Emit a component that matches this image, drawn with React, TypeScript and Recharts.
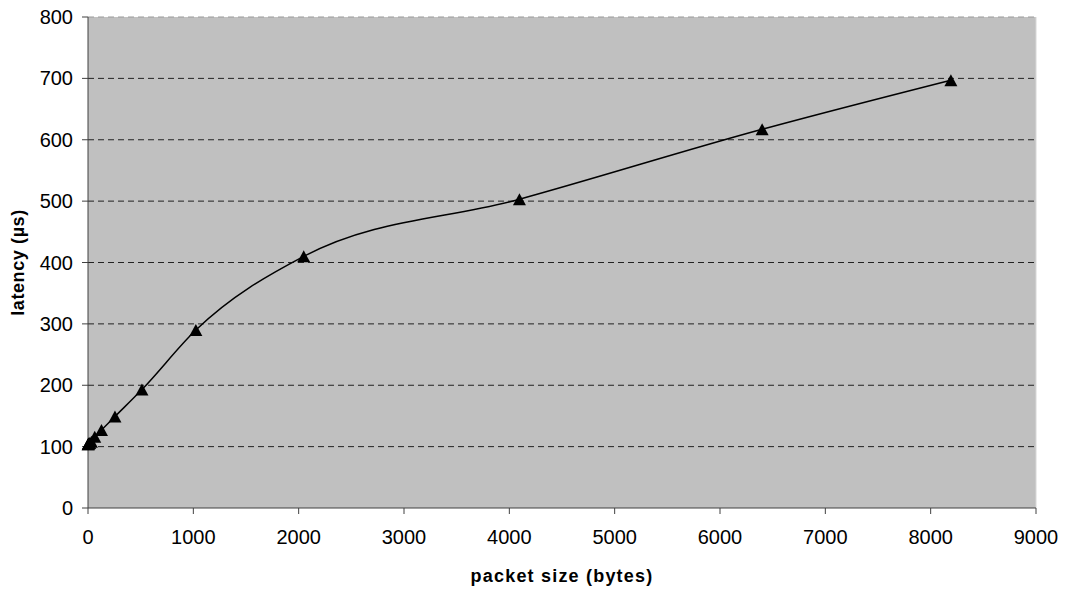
import React from 'react';
import { LineChart, Line, XAxis, YAxis, CartesianGrid, ReferenceLine } from 'recharts';

const packetSizes = [1, 2, 4, 8, 16, 32, 64, 128, 256, 512, 1024, 2048, 4096, 6400, 8192];
const latencies = [104, 104, 105, 105, 106, 108, 116, 127, 149, 193, 290, 410, 503, 617, 697];
const xTicks = [0, 1000, 2000, 3000, 4000, 5000, 6000, 7000, 8000, 9000];
const yTicks = [0, 100, 200, 300, 400, 500, 600, 700, 800];
const gridValues = [100, 200, 300, 400, 500, 600, 700];

const data = packetSizes.map((s, i) => ({ size: s, latency: latencies[i] }));

const FONT = '"Liberation Sans", Arial, sans-serif';

const Triangle = (props: any) => {
  const { cx, cy } = props;
  if (cx == null || cy == null) return null;
  const w = 6.5;
  const h = 6;
  return (
    <polygon
      points={`${cx},${cy - h} ${cx + w},${cy + h} ${cx - w},${cy + h}`}
      fill="#000"
      stroke="none"
    />
  );
};

const YLabel = (props: any) => {
  const vb = props.viewBox || {};
  const cy = vb.y + vb.height / 2;
  const cx = 24;
  return (
    <text
      x={cx}
      y={cy}
      transform={`rotate(-90 ${cx} ${cy})`}
      textAnchor="middle"
      fontFamily={FONT}
      fontWeight="bold"
      fontSize={18}
      letterSpacing={0.6}
      fill="#000"
    >
      latency (µs)
    </text>
  );
};

const XLabel = (props: any) => {
  const vb = props.viewBox || {};
  const cx = vb.x + vb.width / 2;
  return (
    <text
      x={cx}
      y={582}
      textAnchor="middle"
      fontFamily={FONT}
      fontWeight="bold"
      fontSize={18}
      letterSpacing={1.2}
      fill="#000"
    >
      packet size (bytes)
    </text>
  );
};

export default function App() {
  return (
    <div style={{ position: 'absolute', left: 0, top: 0, width: 1068, height: 592, background: '#fff' }}>
      <LineChart
        width={1068}
        height={592}
        data={data}
        margin={{ top: 17, right: 32, left: 0, bottom: 0 }}
      >
        <CartesianGrid
          vertical={false}
          horizontalValues={gridValues}
          fill="#c0c0c0"
          fillOpacity={1}
          stroke="#222"
          strokeDasharray="6 4"
        />
        <ReferenceLine y={800} stroke="#9a9a9a" strokeDasharray="6 4" />
        <ReferenceLine x={9000} stroke="#d8d8d8" />
        <XAxis
          dataKey="size"
          type="number"
          domain={[0, 9000]}
          ticks={xTicks}
          interval={0}
          height={84}
          tickSize={6}
          tickMargin={16}
          stroke="#404040"
          tick={{ fill: '#000', fontSize: 20, fontFamily: FONT }}
          label={<XLabel />}
        />
        <YAxis
          type="number"
          domain={[0, 800]}
          ticks={yTicks}
          interval={0}
          width={88}
          tickSize={6}
          tickMargin={9}
          stroke="#404040"
          tick={{ fill: '#000', fontSize: 20, fontFamily: FONT }}
          label={<YLabel />}
        />
        <Line
          type="monotone"
          dataKey="latency"
          stroke="#000"
          strokeWidth={1.5}
          dot={<Triangle />}
          activeDot={false}
          isAnimationActive={false}
        />
      </LineChart>
    </div>
  );
}
